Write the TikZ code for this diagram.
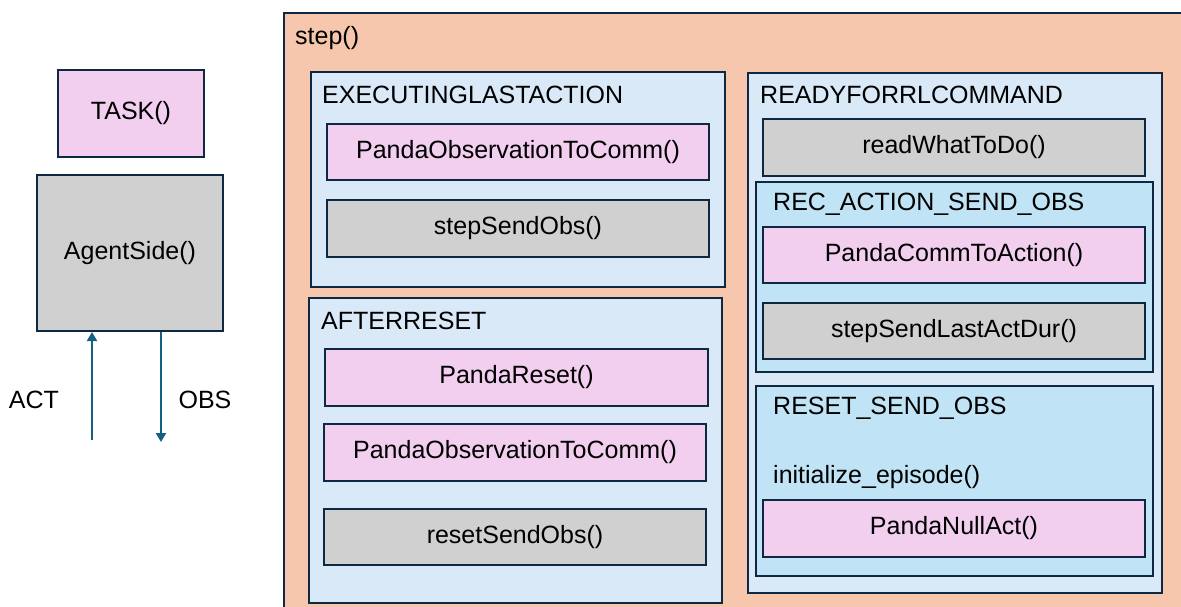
\documentclass[tikz,border=0pt]{standalone}
\usepackage{fontspec}
\setmainfont{Liberation Sans}
\usetikzlibrary{arrows.meta}

\definecolor{edge}{HTML}{0E2841}
\definecolor{pinkfill}{HTML}{F2CEEF}
\definecolor{grayfill}{HTML}{D0D0D0}
\definecolor{peach}{HTML}{F6C6AD}
\definecolor{paleblue}{HTML}{DAE9F7}
\definecolor{skyblue}{HTML}{C0E4F5}
\definecolor{flow}{HTML}{156082}

\tikzset{
  base/.style={draw=edge, line width=2pt, rectangle, anchor=north west,
    inner sep=0pt, font=\fontsize{25}{30}\selectfont},
  callpink/.style={base, fill=pinkfill},
  callgray/.style={base, fill=grayfill},
  outer/.style={base, fill=peach},
  statebox/.style={base, fill=paleblue},
  subbox/.style={base, fill=skyblue},
  lbl/.style={anchor=west, inner sep=0pt, font=\fontsize{25}{30}\selectfont},
  flowarrow/.style={draw=flow, line width=2pt,
    -{Triangle[width=10pt,length=9pt]}},
}

% box given by its top-left corner, width and height (in px units)
\newcommand{\boxat}[6]{%
  \node[#1, minimum width=#4pt, minimum height=#5pt] (#2) at (#3) {#6};}

\begin{document}
\begin{tikzpicture}[x=1pt, y=-1pt]
  \useasboundingbox (0,0) rectangle (1181,606);
  \clip (0,0) rectangle (1181,606);

  % agent side
  \boxat{callpink}{task}{57,69}{146}{87}{TASK()}
  \boxat{callgray}{agent}{36,174}{186}{156}{AgentSide()}
  \coordinate (actfoot) at (92,440);
  \coordinate (obsfoot) at (161,442);
  \draw[flowarrow] (actfoot) -- (actfoot |- agent.south);
  \draw[flowarrow] (obsfoot |- agent.south) -- (obsfoot);
  \node[lbl, anchor=center] (act) at (34,400) {ACT};
  \node[lbl, anchor=center] (obs) at (205,400) {OBS};

  % step() container
  \boxat{outer}{step}{283,12}{920}{620}{}
  \node[lbl] (steplbl) at (295,38) {step()};

  % EXECUTINGLASTACTION
  \boxat{statebox}{exec}{310,71}{414}{215}{}
  \node[lbl] (execlbl) at (322,95) {EXECUTINGLASTACTION};
  \boxat{callpink}{execobs}{326,123}{382}{56}{PandaObservationToComm()}
  \boxat{callgray}{execsend}{326,199}{382}{57}{stepSendObs()}

  % AFTERRESET
  \boxat{statebox}{after}{308,297}{413}{305}{}
  \node[lbl] (afterlbl) at (321,321) {AFTERRESET};
  \boxat{callpink}{afterreset}{324,348}{383}{57}{PandaReset()}
  \boxat{callpink}{afterobs}{323,423}{382}{57}{PandaObservationToComm()}
  \boxat{callgray}{aftersend}{323,508}{382}{56}{resetSendObs()}

  % READYFORRLCOMMAND
  \boxat{statebox}{ready}{747,72}{414}{520}{}
  \node[lbl] (readylbl) at (760,95) {READYFORRLCOMMAND};
  \boxat{callgray}{readwhat}{762,118}{382}{57}{readWhatToDo()}

  % REC_ACTION_SEND_OBS
  \boxat{subbox}{rec}{755,181}{397}{190}{}
  \node[lbl] (reclbl) at (773,204) {REC\_ACTION\_SEND\_OBS};
  \boxat{callpink}{comm}{762,226}{382}{56}{PandaCommToAction()}
  \boxat{callgray}{lastact}{762,302}{382}{56}{stepSendLastActDur()}

  % RESET_SEND_OBS
  \boxat{subbox}{rso}{755,385}{397}{190}{}
  \node[lbl] (rsolbl) at (773,408) {RESET\_SEND\_OBS};
  \node[lbl] (initep) at (773,477) {initialize\_episode()};
  \boxat{callpink}{nullact}{762,499}{382}{57}{PandaNullAct()}
\end{tikzpicture}
\end{document}
